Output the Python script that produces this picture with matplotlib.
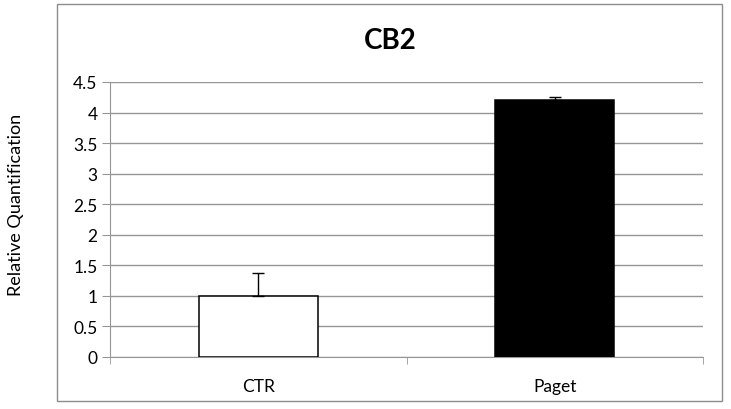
import matplotlib
matplotlib.use("Agg")
import matplotlib.pyplot as plt
from matplotlib.patches import Rectangle

categories = ["CTR", "Paget"]
values = [1.0, 4.2]
errors = [0.38, 0.05]
colors = ["white", "black"]
yticks = [0, 0.5, 1, 1.5, 2, 2.5, 3, 3.5, 4, 4.5]
ytick_labels = ["0", "0.5", "1", "1.5", "2", "2.5", "3", "3.5", "4", "4.5"]

plt.rcParams['font.family'] = ['Lato', 'DejaVu Sans']

fig = plt.figure(figsize=(7.31, 4.10), dpi=100)
fig.patch.set_facecolor("white")

# outer chart border
fig.add_artist(Rectangle((57/731, 8/410), (722-57)/731, (405-8)/410,
                         transform=fig.transFigure, fill=False,
                         edgecolor="#8c8c8c", linewidth=1.0))

ax = fig.add_axes([110/731, 52/410, (703-110)/731, (358-83)/410])
x = list(range(len(categories)))
ax.bar(x, values, width=0.4, color=colors, edgecolor="black", linewidth=1.1, zorder=3)
ax.errorbar(x, values, yerr=[[0, 0], errors], fmt="none", ecolor="black",
            elinewidth=1.0, capsize=4, capthick=1.0, zorder=4)

ax.set_xlim(-0.5, 1.5)
ax.set_ylim(0, 4.5)
ax.set_yticks(yticks)
ax.set_yticklabels(ytick_labels)
ax.yaxis.grid(True, color="#969696", linewidth=1.0, zorder=0)
ax.set_axisbelow(True)

for s in ["top", "right"]:
    ax.spines[s].set_visible(False)
ax.spines["left"].set_color("#969696")
ax.spines["bottom"].set_color("#969696")

ax.set_xticks(x)
ax.set_xticklabels(categories)
ax.set_xticks([-0.5, 0.5, 1.5], minor=True)
ax.tick_params(axis="x", which="major", length=0, pad=15, labelsize=12.5)
ax.tick_params(axis="x", which="minor", length=5, color="#969696")
ax.tick_params(axis="y", length=6, color="#969696", labelsize=12.5, pad=3)

fig.text(390/731, 1 - 41/410, "CB2", ha="center", va="center",
         fontsize=20, fontweight="bold")
fig.text(16/731, 1 - 205/410, "Relative Quantification", ha="center", va="center",
         rotation=90, fontsize=13)

fig.savefig("out.png", dpi=100, facecolor="white")
